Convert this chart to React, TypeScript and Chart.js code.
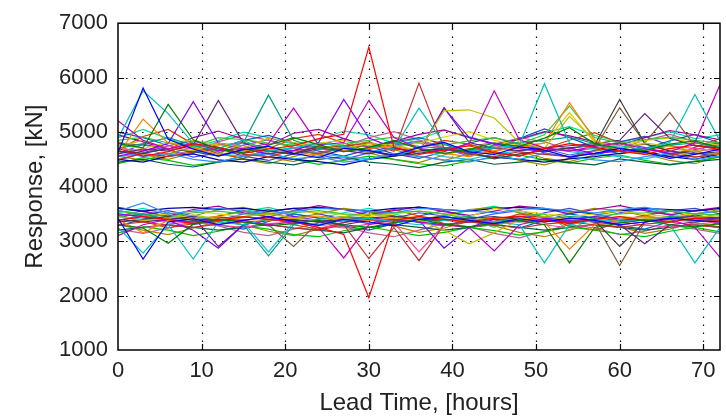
import { useEffect, useRef } from "react";
import { Chart, registerables } from "chart.js";

Chart.register(...registerables);

const leadTimes = [0, 3, 6, 9, 12, 15, 18, 21, 24, 27, 30, 33, 36, 39, 42, 45, 48, 51, 54, 57, 60, 63, 66, 69, 72];
const xTickValues = [0, 10, 20, 30, 40, 50, 60, 70];
const yTickValues = [1000, 2000, 3000, 4000, 5000, 6000, 7000];

const lineColors = [
  "#0000ff", "#008000", "#ff0000", "#00bfbf", "#bf00bf", "#bfbf00", "#404040", "#ff8000", "#8000ff", "#00a080",
  "#c03030", "#40c040", "#602080", "#3090ff", "#e0d000", "#0000a0", "#ff40a0", "#806040", "#20c0e0", "#006040",
  "#a000a0", "#00c000", "#d04000", "#0060c0", "#909000", "#c06090", "#4040c0", "#00e0a0", "#b08000", "#5050ff",
];

// upper band (one array per ensemble member)
const u01 = [4620, 5810, 4870, 4690, 4560, 4680, 4740, 4610, 4530, 4700, 4660, 4580, 4720, 4810, 4640, 4590, 4730, 4670, 4540, 4610, 4700, 4630, 4520, 4590, 4690];
const u02 = [4790, 4710, 5510, 4860, 4690, 4620, 4760, 4900, 4770, 4640, 4720, 4850, 4690, 4610, 4680, 4800, 4740, 4890, 5080, 4790, 4700, 4660, 4780, 4840, 4710];
const u03 = [4700, 4560, 4640, 4790, 4720, 4610, 4690, 4750, 4880, 4960, 6560, 4720, 4590, 4670, 4750, 4620, 4560, 4700, 4790, 4720, 4650, 4590, 4700, 4760, 4680];
const u04 = [4890, 5760, 5340, 4790, 4700, 4850, 4650, 4710, 4800, 4740, 4640, 4700, 5440, 4790, 4650, 4710, 4760, 5890, 4800, 4690, 4750, 4680, 4810, 5690, 4840];
const u05 = [5210, 4850, 4690, 4800, 4660, 4700, 4790, 5440, 4760, 4810, 5580, 4900, 4700, 4650, 4790, 5760, 4860, 4710, 4650, 4740, 4800, 4690, 4640, 4810, 5870];
const u06 = [4740, 4850, 4700, 4660, 4800, 4710, 4890, 4810, 4750, 4700, 4790, 4760, 4660, 5390, 5410, 5260, 4810, 4700, 5290, 4850, 4710, 4800, 4740, 4650, 4710];
const u07 = [4650, 4610, 4700, 4640, 4560, 4690, 4650, 4600, 4740, 4700, 4660, 4560, 4610, 4690, 4640, 4510, 4600, 4660, 4710, 4760, 5600, 4790, 4650, 4600, 4640];
const u08 = [4600, 5240, 4800, 4710, 4590, 4650, 4700, 4620, 4580, 4660, 4700, 4740, 4650, 4610, 4550, 4660, 4710, 4800, 5540, 4860, 4650, 4600, 4700, 4640, 4590];
const u09 = [4560, 4650, 4790, 5560, 4800, 4690, 4600, 4660, 4810, 5600, 4890, 4710, 4640, 5440, 4900, 4790, 4700, 4640, 4710, 4600, 4660, 4700, 4610, 4650, 4700];
const u10 = [4700, 4790, 4900, 4760, 4650, 4810, 5680, 4850, 4700, 4640, 4710, 4800, 4740, 4700, 4660, 4750, 4810, 4850, 4910, 4790, 4650, 4710, 4760, 4800, 4740];
const u11 = [4500, 4610, 4550, 4640, 4700, 4590, 4550, 4660, 4710, 4740, 4800, 4650, 5900, 4700, 4600, 4550, 4640, 4590, 4550, 4610, 4660, 4700, 4600, 4540, 4600];
const u12 = [4850, 4910, 4800, 4740, 4900, 4860, 4800, 4760, 4700, 4790, 4850, 4910, 4800, 4760, 4840, 4900, 4790, 4950, 5480, 4900, 4800, 4860, 4910, 4850, 4800];
const u13 = [4600, 4690, 4650, 4760, 5580, 4800, 4650, 4590, 4700, 4660, 4600, 4700, 4640, 5450, 4810, 4700, 4660, 4710, 4750, 4790, 4850, 5340, 4890, 4750, 4710];
const u14 = [4650, 4550, 4610, 4500, 4450, 4560, 4600, 4510, 4550, 4450, 4500, 4610, 4550, 4490, 4450, 4560, 4500, 4610, 4550, 4490, 4460, 4550, 4610, 4500, 4560];
const u15 = [4760, 4700, 4810, 4850, 4760, 4690, 4650, 4760, 4800, 4850, 4750, 4710, 4800, 4910, 5010, 4850, 4760, 4800, 5360, 4810, 4750, 4850, 4890, 4800, 4760];
const u16 = [4500, 4450, 4560, 4600, 4490, 4450, 4550, 4500, 4460, 4400, 4500, 4560, 4650, 4700, 4600, 4540, 4500, 4450, 4510, 4550, 4610, 4650, 4550, 4500, 4600];
const u17 = [4700, 4660, 4750, 4690, 4800, 4750, 4640, 4700, 4760, 4650, 4700, 4740, 4810, 4700, 4660, 4750, 4690, 4650, 4700, 4760, 4700, 4640, 4750, 4700, 4660];
const u18 = [4800, 4760, 4700, 4640, 4750, 4810, 4700, 4660, 4600, 4710, 4750, 4690, 4650, 4710, 4750, 4800, 4740, 4700, 4660, 4700, 5450, 4800, 5360, 4750, 4800];
const u19 = [4550, 4610, 4700, 4640, 4600, 4560, 4650, 4710, 4600, 4550, 4510, 4600, 4660, 4550, 4500, 4600, 4650, 4710, 4640, 4600, 4550, 4510, 4600, 4660, 4550];
const u20 = [4450, 4500, 4410, 4360, 4450, 4510, 4450, 4400, 4500, 4550, 4450, 4410, 4350, 4450, 4500, 4410, 4450, 4500, 4440, 4400, 4510, 4450, 4400, 4460, 4500];
const u21 = [4950, 4820, 4680, 4900, 5020, 4870, 4760, 4980, 5050, 4880, 4720, 4830, 4960, 5040, 4900, 4780, 4870, 5010, 4930, 4820, 4760, 4900, 5030, 4950, 4860];
const u22 = [4420, 4530, 4480, 4390, 4450, 4560, 4620, 4500, 4410, 4480, 4560, 4500, 4420, 4380, 4470, 4530, 4580, 4490, 4430, 4520, 4580, 4480, 4410, 4470, 4540];
const u23 = [4680, 4920, 5050, 4780, 4600, 4520, 4700, 4880, 4960, 4800, 4650, 4560, 4720, 4850, 4780, 4640, 4560, 4700, 4850, 4990, 4800, 4620, 4550, 4720, 4880];
const u24 = [5000, 4900, 4760, 4620, 4700, 4850, 4940, 4800, 4650, 4560, 4680, 4820, 4900, 4780, 4620, 4700, 4880, 5060, 4900, 4720, 4600, 4700, 4840, 4960, 4800];
const u25 = [4560, 4480, 4600, 4720, 4640, 4500, 4420, 4550, 4680, 4760, 4620, 4500, 4440, 4580, 4700, 4620, 4480, 4400, 4520, 4650, 4720, 4600, 4480, 4420, 4560];
const u26 = [4820, 4700, 4580, 4660, 4820, 4950, 4850, 4700, 4620, 4740, 4900, 5010, 4860, 4720, 4640, 4760, 4900, 4820, 4680, 4580, 4700, 4850, 4960, 4820, 4680];
const u27 = [4480, 4620, 4750, 4840, 4700, 4560, 4480, 4600, 4760, 4880, 4740, 4600, 4520, 4640, 4800, 4900, 4780, 4620, 4540, 4660, 4820, 4920, 4760, 4620, 4540];
const u28 = [4900, 5050, 4880, 4720, 4850, 5000, 4900, 4780, 4860, 5020, 4950, 4800, 4880, 5030, 4920, 4780, 4860, 4990, 5100, 4940, 4820, 4900, 5010, 4880, 4950];
const u29 = [4740, 4590, 4500, 4620, 4780, 4660, 4540, 4460, 4600, 4740, 4820, 4680, 4560, 4480, 4600, 4720, 4640, 4520, 4460, 4580, 4700, 4780, 4660, 4540, 4620];
const u30 = [4600, 4780, 4680, 4540, 4620, 4760, 4860, 4720, 4580, 4500, 4620, 4760, 4840, 4700, 4560, 4640, 4780, 4700, 4580, 4660, 4800, 4720, 4580, 4680, 4780];

// lower band
const l01 = [3420, 2670, 3350, 3410, 3300, 3380, 3450, 3360, 3290, 3400, 3350, 3280, 3400, 3450, 3380, 3320, 3410, 3350, 3420, 3380, 3300, 3350, 3420, 3380, 3350];
const l02 = [3300, 3240, 2960, 3310, 3400, 3350, 3280, 3320, 3380, 3300, 3250, 3340, 3400, 3310, 3260, 3330, 3380, 3300, 2600, 3250, 3330, 3390, 3300, 3260, 3320];
const l03 = [3380, 3450, 3400, 3320, 3380, 3450, 3400, 3350, 3250, 3120, 1960, 3380, 3450, 3400, 3350, 3420, 3460, 3380, 3320, 3400, 3450, 3380, 3350, 3420, 3380];
const l04 = [3250, 2780, 3300, 2670, 3350, 3300, 3400, 3350, 3300, 3380, 3420, 3350, 3300, 3380, 3400, 3350, 3300, 2600, 3300, 3380, 3350, 3400, 3300, 2600, 3250];
const l05 = [3100, 3300, 3400, 3350, 3400, 3380, 3300, 3350, 3250, 2690, 3300, 3400, 3350, 3300, 3250, 2820, 3300, 3400, 3350, 3380, 3300, 3350, 3400, 3250, 2700];
const l06 = [3450, 3380, 3420, 3480, 3400, 3450, 3500, 3420, 3380, 3450, 3500, 3420, 3380, 3200, 2950, 3150, 3400, 3450, 3400, 3380, 3450, 3420, 3380, 3440, 3460];
const l07 = [3350, 3400, 3450, 3380, 3420, 3450, 3400, 3380, 3350, 3400, 3420, 3460, 3400, 3380, 3420, 3450, 3400, 3380, 3350, 3380, 2900, 3350, 3400, 3450, 3420];
const l08 = [3400, 3150, 3380, 3420, 3450, 3400, 3380, 3420, 3460, 3400, 3380, 3420, 3450, 3400, 3380, 3420, 3400, 3350, 2850, 3300, 3400, 3450, 3420, 3380, 3400];
const l09 = [3500, 3450, 3380, 3200, 2870, 3300, 3400, 3450, 3380, 3350, 3400, 3450, 3380, 2870, 3250, 3400, 3450, 3420, 3380, 3450, 3400, 3380, 3420, 3450, 3400];
const l10 = [3450, 3500, 3400, 3350, 3400, 3300, 2730, 3300, 3400, 3450, 3420, 3380, 3350, 3420, 3450, 3400, 3350, 3400, 3450, 3420, 3380, 3400, 3450, 3420, 3380];
const l11 = [3300, 3350, 3290, 3250, 3310, 3350, 3300, 3240, 3200, 3300, 2680, 3250, 2640, 3300, 3360, 3300, 3240, 3310, 3350, 3300, 3250, 3310, 3350, 3290, 3250];
const l12 = [3550, 3500, 3450, 3520, 3550, 3500, 3480, 3520, 3560, 3500, 3480, 3520, 3550, 3500, 3400, 3250, 3450, 3500, 3200, 3450, 3500, 3520, 3560, 3500, 3480];
const l13 = [3400, 3350, 3400, 3450, 2900, 3300, 3380, 3400, 3350, 3300, 3380, 3400, 3350, 3300, 3350, 3400, 3380, 3350, 3400, 3350, 3300, 2950, 3300, 3350, 3400];
const l14 = [3550, 3700, 3500, 3550, 3600, 3550, 3500, 3550, 3600, 3580, 3550, 3520, 3600, 3580, 3550, 3520, 3580, 3600, 3550, 3520, 3580, 3620, 3550, 3500, 3550];
const l15 = [3500, 3450, 3500, 3550, 3500, 3450, 3510, 3550, 3520, 3490, 3450, 3500, 3550, 3500, 3450, 3600, 3550, 3500, 3450, 3500, 3550, 3490, 3450, 3500, 3550];
const l16 = [3600, 3550, 3600, 3620, 3580, 3600, 3550, 3600, 3620, 3580, 3550, 3600, 3620, 3580, 3550, 3600, 3620, 3580, 3550, 3500, 3550, 3600, 3580, 3550, 3600];
const l17 = [3300, 3240, 3310, 3360, 3290, 3250, 3320, 3350, 3290, 3240, 3310, 3340, 2800, 3300, 3250, 3320, 3360, 3300, 3240, 3300, 3350, 3290, 3260, 3310, 3350];
const l18 = [3350, 3400, 3380, 3350, 3400, 3380, 3300, 2900, 3350, 3400, 3380, 3350, 3400, 3380, 3350, 3300, 3400, 3450, 3380, 3350, 2550, 3350, 3400, 3380, 3350];
const l19 = [3450, 3400, 3350, 3400, 3450, 3350, 2800, 3350, 3400, 3450, 3400, 3350, 3400, 3450, 3400, 3350, 3400, 3450, 3400, 3350, 3400, 3450, 3400, 3350, 3400];
const l20 = [3200, 3250, 3300, 3250, 3200, 3250, 3300, 3240, 3200, 3150, 3250, 3300, 3250, 3200, 3250, 3300, 3250, 3200, 3250, 3300, 3250, 3200, 3250, 3300, 3250];
const l21 = [3620, 3540, 3460, 3580, 3640, 3520, 3440, 3560, 3650, 3580, 3480, 3560, 3630, 3540, 3470, 3550, 3640, 3600, 3500, 3580, 3650, 3560, 3480, 3560, 3620];
const l22 = [3150, 3260, 3200, 3100, 3180, 3280, 3220, 3120, 3080, 3190, 3260, 3180, 3100, 3160, 3250, 3190, 3110, 3170, 3260, 3200, 3130, 3080, 3180, 3250, 3170];
const l23 = [3480, 3360, 3240, 3320, 3460, 3560, 3440, 3300, 3220, 3340, 3480, 3580, 3460, 3320, 3240, 3360, 3500, 3420, 3280, 3200, 3340, 3480, 3560, 3420, 3300];
const l24 = [3280, 3400, 3520, 3440, 3300, 3220, 3360, 3500, 3420, 3280, 3200, 3320, 3460, 3560, 3440, 3300, 3240, 3380, 3500, 3420, 3280, 3220, 3360, 3480, 3400];
const l25 = [3560, 3480, 3380, 3460, 3580, 3620, 3520, 3420, 3500, 3600, 3540, 3440, 3380, 3480, 3580, 3620, 3520, 3440, 3520, 3600, 3560, 3460, 3400, 3500, 3580];
const l26 = [3220, 3140, 3240, 3360, 3280, 3160, 3100, 3220, 3340, 3260, 3150, 3080, 3200, 3320, 3260, 3140, 3060, 3180, 3300, 3240, 3120, 3180, 3300, 3220, 3140];
const l27 = [3380, 3480, 3560, 3460, 3360, 3440, 3540, 3600, 3500, 3400, 3320, 3420, 3520, 3460, 3360, 3300, 3400, 3520, 3600, 3500, 3400, 3460, 3560, 3600, 3500];
const l28 = [3520, 3600, 3480, 3380, 3460, 3540, 3620, 3500, 3420, 3520, 3600, 3500, 3380, 3460, 3560, 3640, 3520, 3420, 3360, 3460, 3560, 3620, 3500, 3420, 3500];
const l29 = [3300, 3200, 3120, 3240, 3360, 3300, 3180, 3100, 3220, 3340, 3400, 3280, 3160, 3240, 3360, 3280, 3160, 3080, 3200, 3320, 3260, 3140, 3220, 3340, 3260];
const l30 = [3460, 3560, 3440, 3300, 3380, 3500, 3580, 3460, 3360, 3440, 3540, 3460, 3340, 3280, 3400, 3500, 3560, 3440, 3320, 3400, 3520, 3580, 3480, 3380, 3440];

const upperSeries = [u01, u02, u03, u04, u05, u06, u07, u08, u09, u10, u11, u12, u13, u14, u15, u16, u17, u18, u19, u20, u21, u22, u23, u24, u25, u26, u27, u28, u29, u30];
const lowerSeries = [l01, l02, l03, l04, l05, l06, l07, l08, l09, l10, l11, l12, l13, l14, l15, l16, l17, l18, l19, l20, l21, l22, l23, l24, l25, l26, l27, l28, l29, l30];

const FONT = "'Liberation Sans', Arial, Helvetica, sans-serif";

const framePlugin = {
  id: "matlabFrame",
  beforeDatasetsDraw(chart: any) {
    const { ctx, chartArea: a, scales } = chart;
    const xs = scales.x;
    const ys = scales.y;
    ctx.save();
    ctx.strokeStyle = "#111";
    ctx.lineWidth = 1.2;
    ctx.setLineDash([1.6, 6.4]);
    xTickValues.forEach((v) => {
      if (v <= xs.min || v >= xs.max) return;
      const px = Math.round(xs.getPixelForValue(v)) + 0.5;
      ctx.beginPath();
      ctx.moveTo(px, a.bottom);
      ctx.lineTo(px, a.top);
      ctx.stroke();
    });
    yTickValues.forEach((v) => {
      if (v <= ys.min || v >= ys.max) return;
      const py = Math.round(ys.getPixelForValue(v)) + 0.5;
      ctx.beginPath();
      ctx.moveTo(a.left, py);
      ctx.lineTo(a.right, py);
      ctx.stroke();
    });
    ctx.restore();
  },
  afterDatasetsDraw(chart: any) {
    const { ctx, chartArea: a, scales } = chart;
    const xs = scales.x;
    const ys = scales.y;
    const tl = 6;
    ctx.save();
    ctx.strokeStyle = "#000";
    ctx.lineWidth = 1.5;
    ctx.setLineDash([]);
    ctx.strokeRect(a.left, a.top, a.right - a.left, a.bottom - a.top);
    ctx.lineWidth = 1.2;
    xTickValues.forEach((v) => {
      if (v <= xs.min || v >= xs.max) return;
      const px = Math.round(xs.getPixelForValue(v)) + 0.5;
      ctx.beginPath();
      ctx.moveTo(px, a.bottom);
      ctx.lineTo(px, a.bottom - tl);
      ctx.moveTo(px, a.top);
      ctx.lineTo(px, a.top + tl);
      ctx.stroke();
    });
    yTickValues.forEach((v) => {
      if (v <= ys.min || v >= ys.max) return;
      const py = Math.round(ys.getPixelForValue(v)) + 0.5;
      ctx.beginPath();
      ctx.moveTo(a.left, py);
      ctx.lineTo(a.left + tl, py);
      ctx.moveTo(a.right, py);
      ctx.lineTo(a.right - tl, py);
      ctx.stroke();
    });
    ctx.restore();
  },
};

export default function App() {
  const canvasRef = useRef<HTMLCanvasElement | null>(null);

  useEffect(() => {
    document.body.style.margin = "0";
    const canvas = canvasRef.current;
    if (!canvas) return;
    const all = [...upperSeries, ...lowerSeries];
    const datasets = all.map((series, i) => ({
      data: leadTimes.map((t, j) => ({ x: t, y: series[j] })),
      borderColor: lineColors[i % lineColors.length],
      backgroundColor: lineColors[i % lineColors.length],
      borderWidth: 1.2,
      pointRadius: 0,
      tension: 0,
      fill: false,
    }));
    const chart = new Chart(canvas, {
      type: "line",
      data: { datasets },
      options: {
        animation: false,
        responsive: false,
        devicePixelRatio: 1,
        events: [],
        layout: { padding: { left: 0, right: 6, top: 20, bottom: 0 } },
        plugins: { legend: { display: false }, tooltip: { enabled: false } },
        scales: {
          x: {
            type: "linear",
            min: 0,
            max: 72,
            afterBuildTicks: (s: any) => {
              s.ticks = xTickValues.map((value) => ({ value }));
            },
            afterFit: (s: any) => {
              s.height = 68;
            },
            grid: { display: false, drawTicks: false },
            border: { display: false },
            ticks: {
              color: "#222",
              font: { family: FONT, size: 22 },
              padding: 8,
              maxRotation: 0,
              autoSkip: false,
              callback: (v: any) => String(v),
            },
            title: {
              display: true,
              text: "Lead Time, [hours]",
              color: "#222",
              font: { family: FONT, size: 24 },
              padding: { top: 0, bottom: 0 },
            },
          },
          y: {
            type: "linear",
            min: 1000,
            max: 7000,
            afterBuildTicks: (s: any) => {
              s.ticks = yTickValues.map((value) => ({ value }));
            },
            afterFit: (s: any) => {
              s.width = 118;
            },
            grid: { display: false, drawTicks: false },
            border: { display: false },
            ticks: {
              color: "#222",
              font: { family: FONT, size: 22 },
              padding: 10,
              autoSkip: false,
              callback: (v: any) => String(v),
            },
            title: {
              display: true,
              text: "Response, [kN]",
              color: "#222",
              font: { family: FONT, size: 24 },
              padding: { top: 21, bottom: 0 },
            },
          },
        },
      },
      plugins: [framePlugin],
    });
    return () => chart.destroy();
  }, []);

  return (
    <div style={{ position: "absolute", left: 0, top: 0, width: 726, height: 418, background: "#fff" }}>
      <canvas ref={canvasRef} width={726} height={418} style={{ display: "block", width: 726, height: 418 }} />
    </div>
  );
}
